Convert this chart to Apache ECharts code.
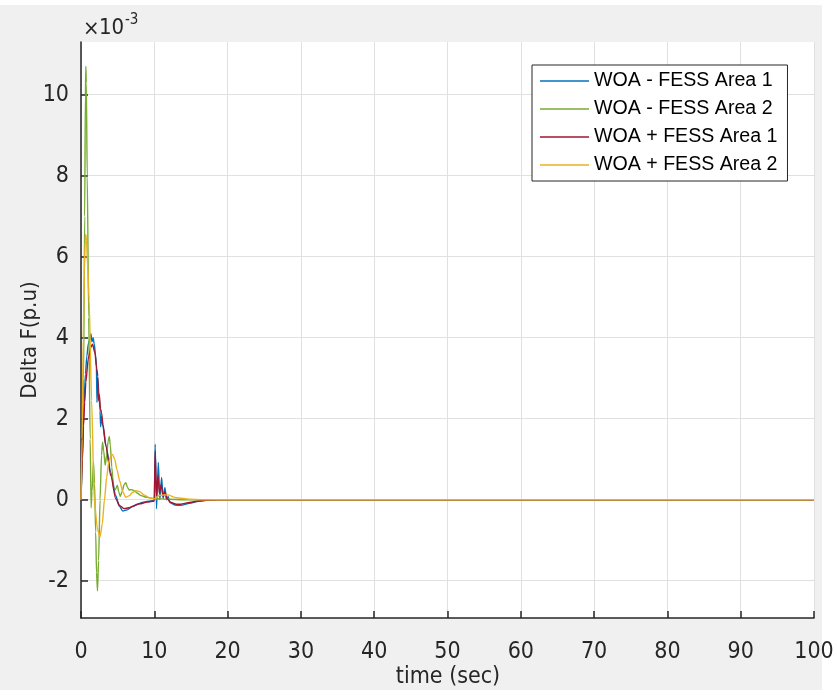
<!DOCTYPE html>
<html>
<head>
<meta charset="utf-8">
<script src="https://cdn.jsdelivr.net/npm/echarts@6/dist/echarts.min.js"></script>
<style>
  html, body { margin: 0; padding: 0; background: #ffffff; }
  #fig { position: absolute; left: 0; top: 5px; width: 822px; height: 685px; background: #f0f0f0; }
  #chart { position: absolute; left: 0; top: 0; width: 837px; height: 695px; }
</style>
</head>
<body>
<div id="fig"></div>
<div id="chart"></div>
<script>
// Frequency deviation of a two-area system, with and without FESS (WOA-tuned)
const seriesNames = ['WOA - FESS Area 1', 'WOA - FESS Area 2', 'WOA + FESS Area 1', 'WOA + FESS Area 2'];

// time (s) and Delta F (x 1e-3 p.u.) for each trace
const tBlue = [0, 0.2, 0.4, 0.6, 0.8, 1.0, 1.2, 1.35, 1.5, 1.65, 1.8, 2.0, 2.1, 2.18, 2.28, 2.45, 2.6, 2.68, 2.78, 3.0, 3.4, 4.07, 4.75, 5.2, 5.7, 6.3, 7.0, 7.7, 8.5, 9.5, 10.0, 10.12, 10.3, 10.55, 10.75, 11.0, 11.2, 11.45, 11.65, 11.9, 12.1, 12.8, 13.6, 14.8, 16.0, 17.2, 20, 25, 100];
const vBlue = [0, 1.2, 2.3, 3.1, 3.55, 3.85, 3.95, 4.1, 3.9, 4.0, 3.85, 3.55, 3.3, 2.4, 3.0, 2.6, 2.2, 1.8, 2.05, 1.8, 1.33, 0.67, 0.1, -0.15, -0.28, -0.25, -0.17, -0.11, -0.06, -0.03, -0.02, 1.37, -0.22, 0.92, 0.0, 0.55, 0.03, 0.3, 0.0, 0.08, -0.07, -0.13, -0.14, -0.09, -0.04, -0.01, 0, 0, 0];

const tGreen = [0, 0.2, 0.35, 0.5, 0.6, 0.66, 0.72, 0.85, 1.05, 1.25, 1.38, 1.5, 1.7, 1.85, 2.0, 2.12, 2.25, 2.4, 2.6, 2.8, 2.94, 3.1, 3.3, 3.5, 3.7, 3.85, 4.0, 4.2, 4.44, 4.7, 4.95, 5.15, 5.35, 5.6, 5.9, 6.12, 6.35, 6.57, 6.9, 7.26, 7.7, 8.2, 9.0, 10, 11, 12, 14, 25, 100];
const vGreen = [0, 1.0, 3.0, 7.0, 10.0, 10.7, 10.3, 8.0, 4.5, 1.5, -0.2, 0.2, 0.93, 0.4, -0.8, -1.8, -2.25, -1.5, 0.0, 1.1, 1.42, 1.2, 0.85, 1.1, 1.45, 1.56, 1.35, 0.8, 0.28, 0.25, 0.36, 0.2, 0.08, 0.2, 0.38, 0.42, 0.3, 0.24, 0.25, 0.22, 0.16, 0.1, 0.06, 0.03, 0.02, 0.01, 0, 0, 0];

const tRed = [0, 0.2, 0.34, 0.5, 0.66, 0.98, 1.34, 1.57, 1.89, 2.16, 2.3, 2.36, 2.5, 2.65, 2.8, 3.0, 3.4, 4.07, 4.75, 5.3, 5.9, 6.5, 7.1, 8.0, 9.0, 10.0, 10.12, 10.3, 10.5, 10.7, 10.95, 11.2, 11.45, 11.75, 12.3, 13.0, 13.6, 14.8, 16.0, 17.5, 20, 25, 100];
const vRed = [0, 1.0, 1.82, 2.4, 2.9, 3.47, 3.76, 3.84, 3.63, 3.22, 3.05, 2.45, 2.6, 2.25, 2.15, 1.85, 1.33, 0.59, 0.02, -0.15, -0.22, -0.2, -0.16, -0.1, -0.06, -0.03, 1.2, 0.1, 0.59, 0.16, 0.38, 0.07, 0.2, 0.02, -0.07, -0.11, -0.11, -0.07, -0.03, -0.01, 0, 0, 0];

const tYellow = [0, 0.15, 0.3, 0.45, 0.58, 0.65, 0.75, 0.9, 1.1, 1.45, 1.8, 2.25, 2.6, 2.9, 3.2, 3.5, 3.8, 4.1, 4.3, 4.6, 4.9, 5.3, 5.7, 6.1, 6.6, 7.0, 7.5, 8.0, 8.6, 9.3, 10, 10.7, 11.8, 13, 14.8, 16.5, 18, 25, 100];
const vYellow = [0, 1.5, 4.0, 5.6, 6.4, 6.55, 6.4, 5.8, 4.95, 2.45, 0.0, -0.73, -0.92, -0.6, 0.0, 0.55, 0.95, 1.1, 1.12, 1.0, 0.75, 0.45, 0.2, 0.06, 0.1, 0.18, 0.22, 0.2, 0.12, 0.05, 0.02, 0.11, 0.12, 0.05, 0.01, 0, 0, 0, 0];

const yTicks = [-2, 0, 2, 4, 6, 8, 10];
const xTicks = [0, 10, 20, 30, 40, 50, 60, 70, 80, 90, 100];

const colors = ['#0072BD', '#77AC30', '#A2142F', '#EDB120'];
const FONT = 'Liberation Sans, Arial, Helvetica, sans-serif';
const NARROW = '"Liberation Sans Narrow", "Arial Narrow", "DejaVu Sans Condensed", sans-serif';
const INK = '#262626';

function pairs(t, v) { return t.map((x, i) => [x, v[i]]); }
const traces = [pairs(tBlue, vBlue), pairs(tGreen, vGreen), pairs(tRed, vRed), pairs(tYellow, vYellow)];

const chart = echarts.init(document.getElementById('chart'), null, { renderer: 'canvas' });

chart.setOption({
  animation: false,
  backgroundColor: 'transparent',
  grid: { left: 81, top: 42, width: 733, height: 576, show: true, backgroundColor: '#ffffff', borderWidth: 0, containLabel: false },
  xAxis: {
    type: 'value', min: xTicks[0], max: xTicks[xTicks.length - 1], interval: 10,
    axisLine: { show: true, onZero: false, lineStyle: { color: INK, width: 1.5 } },
    axisTick: { show: true, inside: true, length: 7, lineStyle: { color: INK, width: 1.5 } },
    axisLabel: { color: INK, fontSize: 23, fontFamily: NARROW, margin: 23 },
    splitLine: { show: true, lineStyle: { color: '#e0e0e0', width: 1 } }
  },
  yAxis: {
    type: 'value', min: -2.92, max: 11.3,
    axisLine: { show: true, onZero: false, lineStyle: { color: INK, width: 1.5 } },
    axisTick: { show: true, inside: true, length: 7, customValues: yTicks, lineStyle: { color: INK, width: 1.5 } },
    axisLabel: { color: INK, fontSize: 23, fontFamily: NARROW, margin: 12, customValues: yTicks },
    splitLine: { show: true, customValues: yTicks, lineStyle: { color: '#e0e0e0', width: 1 } }
  },
  legend: {
    orient: 'vertical', left: 532, top: 65,
    padding: [6, 10, 6, 8], itemGap: 8, itemWidth: 49, itemHeight: 1.5, icon: 'rect',
    backgroundColor: '#ffffff', borderColor: INK, borderWidth: 1,
    textStyle: { color: '#000', fontSize: 19.6, fontFamily: FONT, lineHeight: 20, padding: [0, 0, 0, 0] },
    data: seriesNames
  },
  graphic: [
    // axis exponent: x10^-3
    { type: 'text', x: 83, y: 29, style: { text: '×', font: '22px ' + NARROW, fill: INK, verticalAlign: 'middle' } },
    { type: 'text', x: 99, y: 28, style: { text: '10', font: '22px ' + NARROW, fill: INK, verticalAlign: 'middle' } },
    { type: 'text', x: 125, y: 20, style: { text: '-3', font: '15px ' + NARROW, fill: INK, verticalAlign: 'middle' } },
    { type: 'text', x: 30, y: 340, rotation: Math.PI / 2, style: { text: 'Delta F(p.u)', font: '22px ' + NARROW, fill: INK, align: 'center', verticalAlign: 'middle' } },
    { type: 'text', x: 448, y: 677, style: { text: 'time (sec)', font: '23px ' + NARROW, fill: INK, align: 'center', verticalAlign: 'middle' } }
  ],
  series: traces.map((d, i) => ({
    name: seriesNames[i], type: 'line', data: d, symbol: 'none', smooth: 0.25, smoothMonotone: 'x',
    lineStyle: { color: colors[i], width: 1.4 }, itemStyle: { color: colors[i] }, z: 2 + i
  }))
});
</script>
</body>
</html>
